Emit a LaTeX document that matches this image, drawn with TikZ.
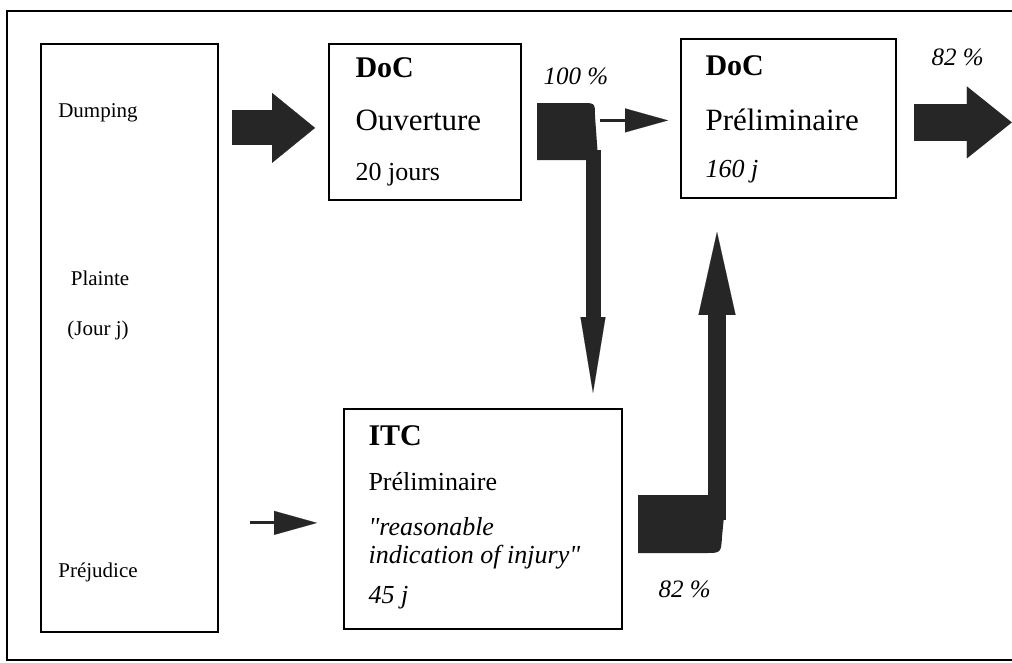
\documentclass[tikz,border=0pt]{standalone}
\usepackage{fontspec}
\setmainfont{Liberation Serif}[Ligatures=TeXOff]
\usetikzlibrary{arrows.meta}
\colorlet{inkGray}{black!85}

\begin{document}
\begin{tikzpicture}[
    x=1pt, y=-1pt,
    outline/.style={line width=1.6pt, draw=black},
    box/.style={
        rectangle,
        anchor=north west,
        draw=black,
        line width=1.8pt,
        inner sep=0,
      },
    head/.style={anchor=base west, font=\fontsize{30pt}{30pt}\selectfont\bfseries},
    big/.style={anchor=base west, font=\fontsize{31pt}{31pt}\selectfont},
    body/.style={anchor=base west, font=\fontsize{26pt}{26pt}\selectfont},
    ibody/.style={anchor=base west, font=\fontsize{26pt}{26pt}\selectfont\itshape},
    side/.style={anchor=base, font=\fontsize{21pt}{21pt}\selectfont},
    pct/.style={anchor=base west, font=\fontsize{25pt}{25pt}\selectfont\itshape},
    fat/.style={line width=35pt, draw=inkGray, -{Triangle[width=70pt, length=43pt, line width=0.1pt]}},
    fatout/.style={line width=37pt, draw=inkGray, -{Triangle[width=72pt, length=45pt, line width=0.1pt]}},
    downarr/.style={line width=15pt, draw=inkGray, -{Triangle[width=25pt, length=76pt, line width=0.1pt]}},
    uparr/.style={line width=18pt, draw=inkGray, -{Triangle[width=37pt, length=83pt, line width=0.1pt]}},
    thinarr/.style={line width=3pt, draw=inkGray, -{Triangle[width=24pt, length=43pt, line width=0.1pt]}},
    tailfill/.style={fill=inkGray},
  ]
  \useasboundingbox (0,0) rectangle (1012,662);
  \draw[outline] (1016,11) -- (7,11) -- (7,660) -- (1016,660);

  \node[box, minimum width=177, minimum height=588] (plainte) at (40,43) {};
  \node[box, minimum width=192, minimum height=156] (docOuv) at (328,43) {};
  \node[box, minimum width=215, minimum height=159] (docPre) at (680,38) {};
  \node[box, minimum width=278, minimum height=220] (itc) at (343,408) {};

  \node[side] (dumping) at (98,117) {Dumping};
  \node[side] (plainteTxt) at (100,285) {Plainte};
  \node[side] (jour) at (98,335) {(Jour j)};
  \node[side] (prejudice) at (98,577) {Préjudice};

  \node[head] (docOuvA) at (352,77) {DoC};
  \node[big] (docOuvB) at (352,130) {Ouverture};
  \node[body] (docOuvC) at (352,180) {20 jours};

  \node[head] (docPreA) at (702,75) {DoC};
  \node[big] (docPreB) at (702,130) {Préliminaire};
  \node[ibody] (docPreC) at (702,177) {160 j};

  \node[head] (itcA) at (365,445) {ITC};
  \node[body] (itcB) at (365,490) {Préliminaire};
  \node[ibody] (itcC) at (365,535) {"reasonable};
  \node[ibody] (itcD) at (365,563) {indication of injury"};
  \node[ibody] (itcE) at (365,603) {45 j};

  \node[pct] (pctA) at (540,84) {100 \%};
  \node[pct] (pctB) at (928,65) {82 \%};
  \node[pct] (pctC) at (655,597) {82 \%};

  \draw[fat] ([xshift=13pt, yshift=-6pt]plainte.east |- docOuv.west) -- ([xshift=-13pt, yshift=-6pt]docOuv.west);
  \draw[thinarr] ([xshift=-80pt, yshift=-2pt]docPre.west) -- ([xshift=-12pt, yshift=-2pt]docPre.west);
  \draw[fatout] ([xshift=17pt, yshift=-4pt]docPre.east) -- ++(98,0);
  \draw[thinarr] ([xshift=31pt, yshift=-4pt]plainte.east |- itc.west) -- ([xshift=-26pt, yshift=-4pt]itc.west);

  \fill[tailfill] (537,103) -- (582,103) .. controls (595,103) .. (595,116) -- (600,185) -- (586,185) -- (586,160) -- (537,160) -- cycle;
  \coordinate (bendA) at (593,150);
  \draw[downarr, shorten >=15pt] (bendA) -- (bendA |- itc.north);

  \fill[tailfill] (638,495) -- (726,495) -- (722,537) .. controls (721,553) .. (705,553) -- (638,553) -- cycle;
  \coordinate (bendB) at (717,520);
  \draw[uparr, shorten >=33pt] (bendB) -- (bendB |- docPre.south);
\end{tikzpicture}
\end{document}
